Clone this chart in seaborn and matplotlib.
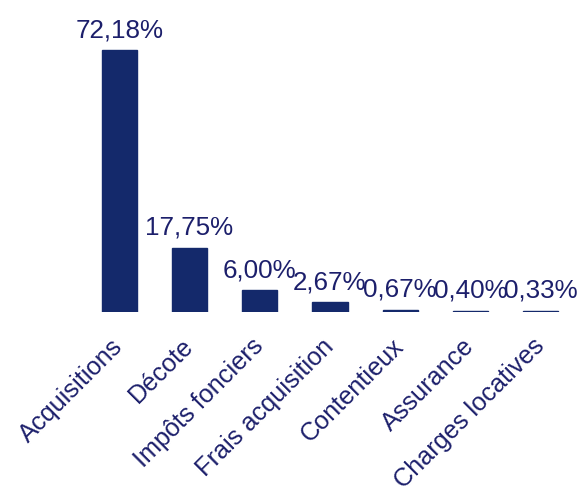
import matplotlib
matplotlib.use("Agg")
import matplotlib.pyplot as plt
import seaborn as sns
import pandas as pd

categories = ["Acquisitions", "Décote", "Impôts fonciers", "Frais acquisition",
              "Contentieux", "Assurance", "Charges locatives"]
shares = [72.18, 17.75, 6.00, 2.67, 0.67, 0.40, 0.33]
value_labels = ["72,18%", "17,75%", "6,00%", "2,67%", "0,67%", "0,40%", "0,33%"]

sns.set_style("white")
plt.rcParams["font.family"] = ["Liberation Sans", "DejaVu Sans"]

bar_color = "#14296b"
text_color = "#1c1f6b"

df = pd.DataFrame({"poste": categories, "part": shares})

fig = plt.figure(figsize=(5.82, 4.93), dpi=100)
ax = fig.add_axes([84 / 582, 1 - 312 / 493, (576 - 84) / 582, (312 - 40) / 493])

sns.barplot(data=df, x="poste", y="part", color=bar_color, width=0.5,
            saturation=1, edgecolor=bar_color, linewidth=1, ax=ax)

for i, (v, lab) in enumerate(zip(shares, value_labels)):
    ax.annotate(lab, xy=(i, v), xytext=(0, 8), textcoords="offset pixels",
                ha="center", va="bottom", fontsize=18.7, color=text_color,
                annotation_clip=False)

ax.set_xlim(-0.5, 6.5)
ax.set_ylim(0, 75)
ax.set_xlabel("")
ax.set_ylabel("")
ax.set_yticks([])
ax.tick_params(axis="x", length=0, pad=22)
for t in ax.get_xticklabels():
    t.set_rotation(45)
    t.set_ha("right")
    t.set_va("center")
    t.set_rotation_mode("anchor")
    t.set_fontsize(18.2)
    t.set_color(text_color)
for s in ax.spines.values():
    s.set_visible(False)

fig.savefig("out.png", dpi=100)
